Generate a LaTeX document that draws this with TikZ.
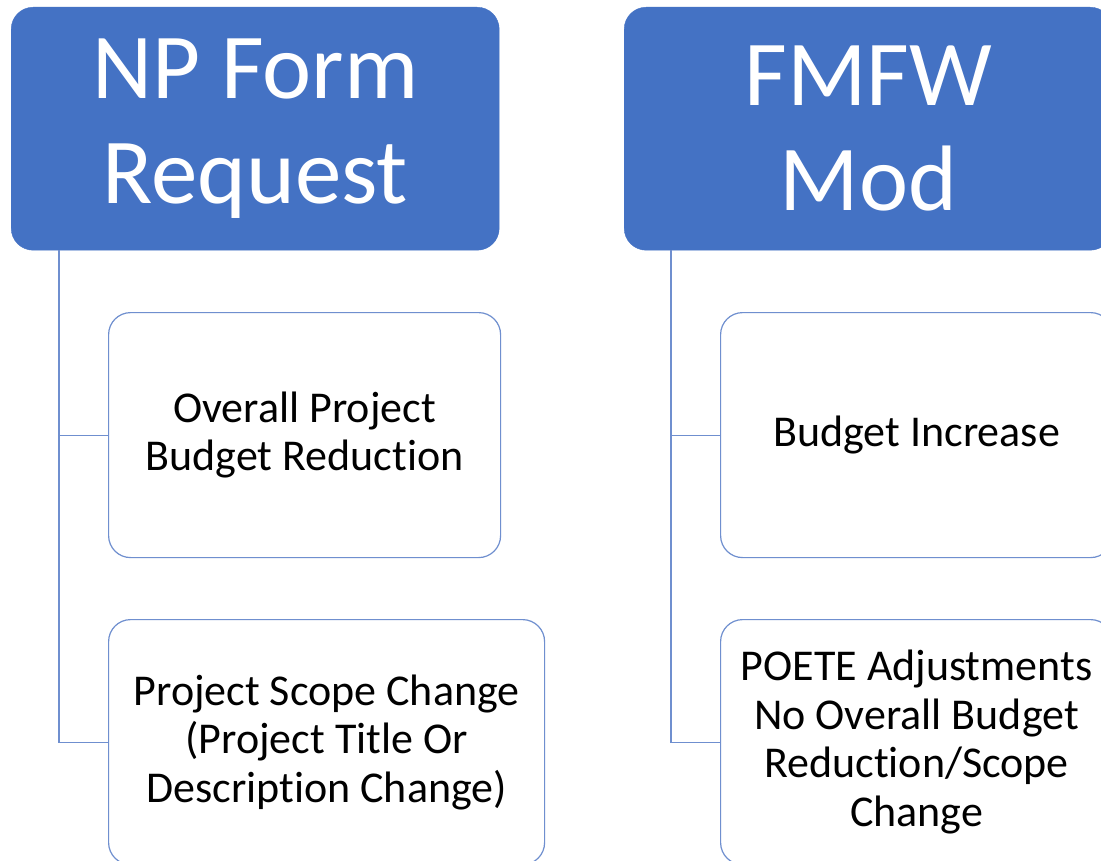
\documentclass[tikz,border=0pt]{standalone}
\usepackage{fontspec}
\setmainfont[Ligatures=CommonOff]{Carlito}
\definecolor{hdrblue}{HTML}{4472C4}
\definecolor{lnblue}{HTML}{6F8FCF}
\begin{document}
\begin{tikzpicture}[x=1pt,y=-1pt,
  header/.style={draw=hdrblue,fill=hdrblue,rounded corners=22pt,inner sep=0pt,
    text=white,align=center,minimum width=488pt,minimum height=243pt,anchor=north west,
    font=\fontsize{93}{105}\selectfont},
  itembox/.style={draw=lnblue,line width=1.2pt,fill=white,rounded corners=22pt,inner sep=0pt,
    align=center,minimum height=245pt,anchor=north west,
    font=\fontsize{44}{48.5}\selectfont},
  conn/.style={draw=lnblue,line width=1.2pt}]
\useasboundingbox (0,0) rectangle (1101,861);
\clip (0,0) rectangle (1101,861);
\fill[white] (0,0) rectangle (1101,861);
\node[header] (h1) at (11,7) {NP Form\\Request};
\node[header] (h2) at (624,7) {FMFW\\Mod};
\node[itembox,minimum width=392pt] (b1) at (108,312) {Overall Project\\Budget Reduction};
\node[itembox,minimum width=436pt] (b2) at (108,619) {Project Scope Change\\(Project Title Or\\Description Change)};
\node[itembox,minimum width=392pt] (b3) at (720,312) {Budget Increase};
\node[itembox,minimum width=392pt] (b4) at (720,619) {POETE Adjustments\\No Overall Budget\\Reduction/Scope\\Change};
\draw[conn] ([xshift=48pt]h1.south west) |- (b1.west);
\draw[conn] ([xshift=48pt]h1.south west) |- (b2.west);
\draw[conn] ([xshift=47pt]h2.south west) |- (b3.west);
\draw[conn] ([xshift=47pt]h2.south west) |- (b4.west);
\end{tikzpicture}
\end{document}
